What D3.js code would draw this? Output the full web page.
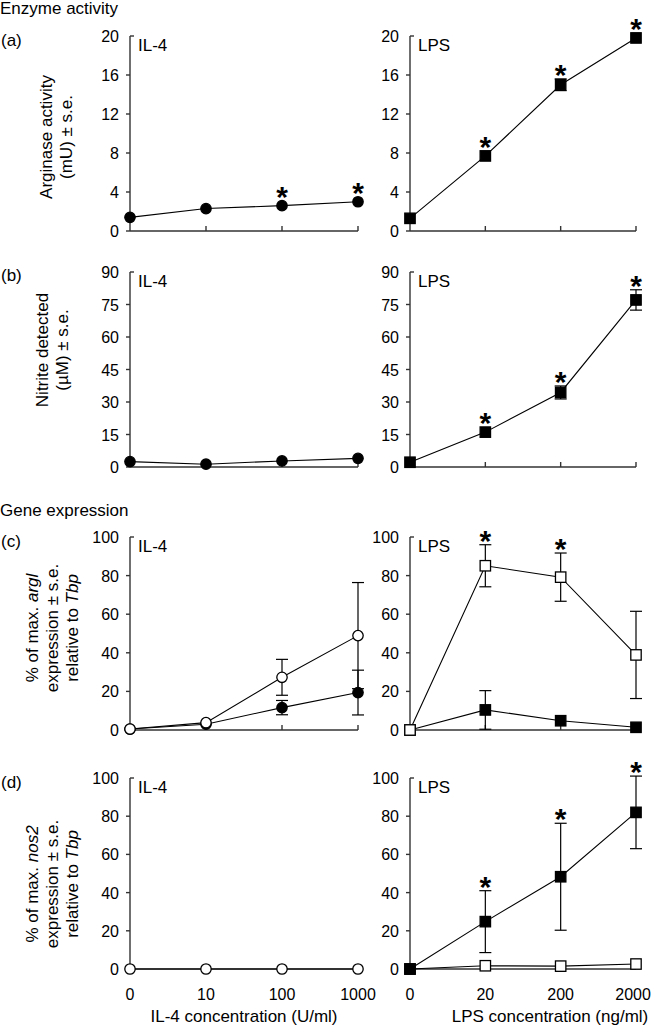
<!DOCTYPE html>
<html><head><meta charset="utf-8">
<script src="https://cdn.jsdelivr.net/npm/d3@7"></script>
<style>
html,body{margin:0;padding:0;background:#fff;}
svg text{font-family:"Liberation Sans",Arial,Helvetica,sans-serif;fill:#000;}
</style></head>
<body>
<svg id="chart" width="653" height="1030"></svg>
<script>
// ---- data ----
const il4Doses = ["0", "10", "100", "1000"];
const lpsDoses = ["0", "20", "200", "2000"];

const ticksA = [0, 4, 8, 12, 16, 20];
const ticksB = [0, 15, 30, 45, 60, 75, 90];
const ticksCD = [0, 20, 40, 60, 80, 100];

// (a) arginase activity (mU)
const argIL4 = [1.4, 2.3, 2.6, 3.0];
const argIL4Star = [0, 0, 1, 1];
const argLPS = [1.3, 7.7, 15.0, 19.8];
const argLPSErr = [0, 0, 0.6, 0];
const argLPSStar = [0, 1, 1, 1];

// (b) nitrite (µM)
const noIL4 = [2.5, 1.3, 2.8, 4.0];
const noLPS = [2.2, 16.1, 34.4, 77.1];
const noLPSErr = [0, 0, 3.0, 4.7];
const noLPSStar = [0, 1, 1, 1];

// (c) argI expression
const arglIL4Open = [0.5, 3.8, 27.3, 48.9];
const arglIL4OpenErr = [0, 0, 9.3, 27.5];
const arglIL4Filled = [0.5, 3.0, 11.6, 19.4];
const arglIL4FilledErr = [0, 0, 3.7, 11.6];
const arglLPSOpen = [0, 85.1, 79.2, 38.9];
const arglLPSOpenErr = [0, 10.9, 12.5, 22.6];
const arglLPSOpenStar = [0, 1, 1, 0];
const arglLPSFilled = [0, 10.4, 4.8, 1.4];
const arglLPSFilledErr = [0, 10.0, 0, 0];

// (d) nos2 expression
const nosIL4Open = [0, 0, 0, 0];
const nosLPSFilled = [0, 24.8, 48.3, 82.0];
const nosLPSFilledErr = [0, 16.2, 28.0, 19.0];
const nosLPSFilledStar = [0, 1, 1, 1];
const nosLPSOpen = [0, 1.7, 1.5, 2.6];

// ---- drawing ----
const svg = d3.select("#chart");
const AX = "#333";
const FS = 17;
const TFS = 16;

function drawPanel(p) {
  const x = d3.scalePoint().domain(p.cats).range([p.x0, p.x1]);
  const y = d3.scaleLinear().domain([0, d3.max(p.ticks)]).range([p.yb, p.yt]);
  const g = svg.append("g");

  // y axis
  g.append("line").attr("x1", p.x0).attr("x2", p.x0).attr("y1", p.yt).attr("y2", p.yb)
    .attr("stroke", AX).attr("stroke-width", 1.4);
  p.ticks.forEach((t, i) => {
    const yy = y(t);
    const last = i === p.ticks.length - 1;
    g.append("line").attr("x1", last ? p.x0 : p.x0 - 4).attr("x2", last ? p.x0 + 4 : p.x0)
      .attr("y1", yy).attr("y2", yy).attr("stroke", AX).attr("stroke-width", 1.4);
    g.append("text").attr("x", p.x0 - 11).attr("y", yy + 6).attr("text-anchor", "end")
      .attr("font-size", TFS).text(t);
  });
  // x axis
  g.append("line").attr("x1", p.x0).attr("x2", p.x1).attr("y1", p.yb).attr("y2", p.yb)
    .attr("stroke", AX).attr("stroke-width", 1.4);
  p.cats.forEach((c, i) => {
    if (i === 0) return;
    g.append("line").attr("x1", x(c)).attr("x2", x(c)).attr("y1", p.yb).attr("y2", p.yb - 5)
      .attr("stroke", AX).attr("stroke-width", 1.4);
  });
  if (p.xlabels) {
    p.cats.forEach(c => {
      const t = g.append("text").attr("x", x(c)).attr("y", p.yb + 31).attr("text-anchor", "middle")
        .attr("font-size", TFS).text(c);
      const bb = t.node().getBBox();
      if (bb.x + bb.width > 651) t.attr("x", x(c) - (bb.x + bb.width - 651));
    });
  }
  // panel label
  g.append("text").attr("x", p.x0 + 8).attr("y", p.yt + 15).attr("font-size", FS).text(p.label);

  // series
  p.series.forEach(s => {
    const pts = s.values.map((v, i) => ({c: p.cats[i], v, e: s.err ? s.err[i] : 0, st: s.stars ? s.stars[i] : 0}));
    pts.forEach(d => {
      if (!d.e) return;
      const cx = x(d.c);
      g.append("line").attr("x1", cx).attr("x2", cx).attr("y1", y(d.v - d.e)).attr("y2", y(d.v + d.e))
        .attr("stroke", "#000").attr("stroke-width", 1.2);
      [d.v - d.e, d.v + d.e].forEach(vv => {
        g.append("line").attr("x1", cx - 6).attr("x2", cx + 6).attr("y1", y(vv)).attr("y2", y(vv))
          .attr("stroke", "#000").attr("stroke-width", 1.2);
      });
    });
    s.pts = pts;
  });
  p.series.forEach(s => {
    g.append("path").datum(s.pts)
      .attr("d", d3.line().x(d => x(d.c)).y(d => y(d.v)))
      .attr("fill", "none").attr("stroke", "#000").attr("stroke-width", 1.1);
  });
  p.series.forEach(s => {
    s.pts.forEach(d => {
      const cx = x(d.c), cy = y(d.v);
      if (s.shape === "circle") {
        g.append("circle").attr("cx", cx).attr("cy", cy).attr("r", 5.2)
          .attr("fill", s.filled ? "#000" : "#fff").attr("stroke", "#000").attr("stroke-width", 1.3);
      } else {
        g.append("rect").attr("x", cx - 5.2).attr("y", cy - 5.2).attr("width", 10.4).attr("height", 10.4)
          .attr("fill", s.filled ? "#000" : "#fff").attr("stroke", "#000").attr("stroke-width", 1.3);
      }
      if (d.st) {
        const top = Math.min(cy - 5, d.e ? y(d.v + d.e) : cy);
        const sc = top - 11;
        g.append("text").attr("x", cx).attr("y", sc + 17).attr("text-anchor", "middle")
          .attr("font-size", 30).attr("font-weight", "bold").text("*");
      }
    });
  });
  return {x, y};
}

const L = {x0: 130, x1: 358};
const R = {x0: 410, x1: 636};
const rows = [
  {yt: 36, yb: 231, ticks: ticksA},
  {yt: 272, yb: 467, ticks: ticksB},
  {yt: 537, yb: 730, ticks: ticksCD},
  {yt: 778, yb: 969, ticks: ticksCD}
];

// (a)
drawPanel({...L, ...rows[0], cats: il4Doses, label: "IL-4",
  series: [{values: argIL4, stars: argIL4Star, shape: "circle", filled: true}]});
drawPanel({...R, ...rows[0], cats: lpsDoses, label: "LPS",
  series: [{values: argLPS, err: argLPSErr, stars: argLPSStar, shape: "square", filled: true}]});
// (b)
drawPanel({...L, ...rows[1], cats: il4Doses, label: "IL-4",
  series: [{values: noIL4, shape: "circle", filled: true}]});
drawPanel({...R, ...rows[1], cats: lpsDoses, label: "LPS",
  series: [{values: noLPS, err: noLPSErr, stars: noLPSStar, shape: "square", filled: true}]});
// (c)
drawPanel({...L, ...rows[2], cats: il4Doses, label: "IL-4",
  series: [
    {values: arglIL4Filled, err: arglIL4FilledErr, shape: "circle", filled: true},
    {values: arglIL4Open, err: arglIL4OpenErr, shape: "circle", filled: false}
  ]});
drawPanel({...R, ...rows[2], cats: lpsDoses, label: "LPS",
  series: [
    {values: arglLPSFilled, err: arglLPSFilledErr, shape: "square", filled: true},
    {values: arglLPSOpen, err: arglLPSOpenErr, stars: arglLPSOpenStar, shape: "square", filled: false}
  ]});
// (d)
drawPanel({...L, ...rows[3], cats: il4Doses, label: "IL-4", xlabels: true,
  series: [{values: nosIL4Open, shape: "circle", filled: false}]});
drawPanel({...R, ...rows[3], cats: lpsDoses, label: "LPS", xlabels: true,
  series: [
    {values: nosLPSOpen, shape: "square", filled: false},
    {values: nosLPSFilled, err: nosLPSFilledErr, stars: nosLPSFilledStar, shape: "square", filled: true}
  ]});

// headings & panel letters
function txt(x, y, s) {
  return svg.append("text").attr("x", x).attr("y", y).attr("font-size", FS).text(s);
}
txt(0, 14, "Enzyme activity");
txt(1, 46, "(a)");
txt(1, 281, "(b)");
txt(0, 516, "Gene expression");
txt(1, 547, "(c)");
txt(1, 788, "(d)");

// rotated y titles
function ytitle(cx, cy, lines) {
  const t = svg.append("text").attr("transform", `translate(${cx},${cy}) rotate(-90)`)
    .attr("text-anchor", "middle").attr("font-size", FS);
  lines.forEach((ln, i) => {
    const tl = t.append("tspan").attr("x", 0).attr("dy", i === 0 ? 0 : 20);
    ln.forEach(part => {
      tl.append("tspan").attr("font-style", part.i ? "italic" : null).text(part.t);
    });
  });
}
ytitle(52, 137, [[{t: "Arginase activity"}], [{t: "(mU) ± s.e."}]]);
ytitle(48, 350, [[{t: "Nitrite detected"}], [{t: "(µM) ± s.e."}]]);
ytitle(38, 628, [[{t: "% of max. "}, {t: "argl", i: 1}], [{t: "expression ± s.e."}], [{t: "relative to "}, {t: "Tbp", i: 1}]]);
ytitle(38, 884, [[{t: "% of max. "}, {t: "nos2", i: 1}], [{t: "expression ± s.e."}], [{t: "relative to "}, {t: "Tbp", i: 1}]]);

// x titles
svg.append("text").attr("x", 244).attr("y", 1022).attr("text-anchor", "middle").attr("font-size", FS)
  .text("IL-4 concentration (U/ml)");
svg.append("text").attr("x", 550).attr("y", 1022).attr("text-anchor", "middle").attr("font-size", FS)
  .text("LPS concentration (ng/ml)");
</script>
</body></html>
